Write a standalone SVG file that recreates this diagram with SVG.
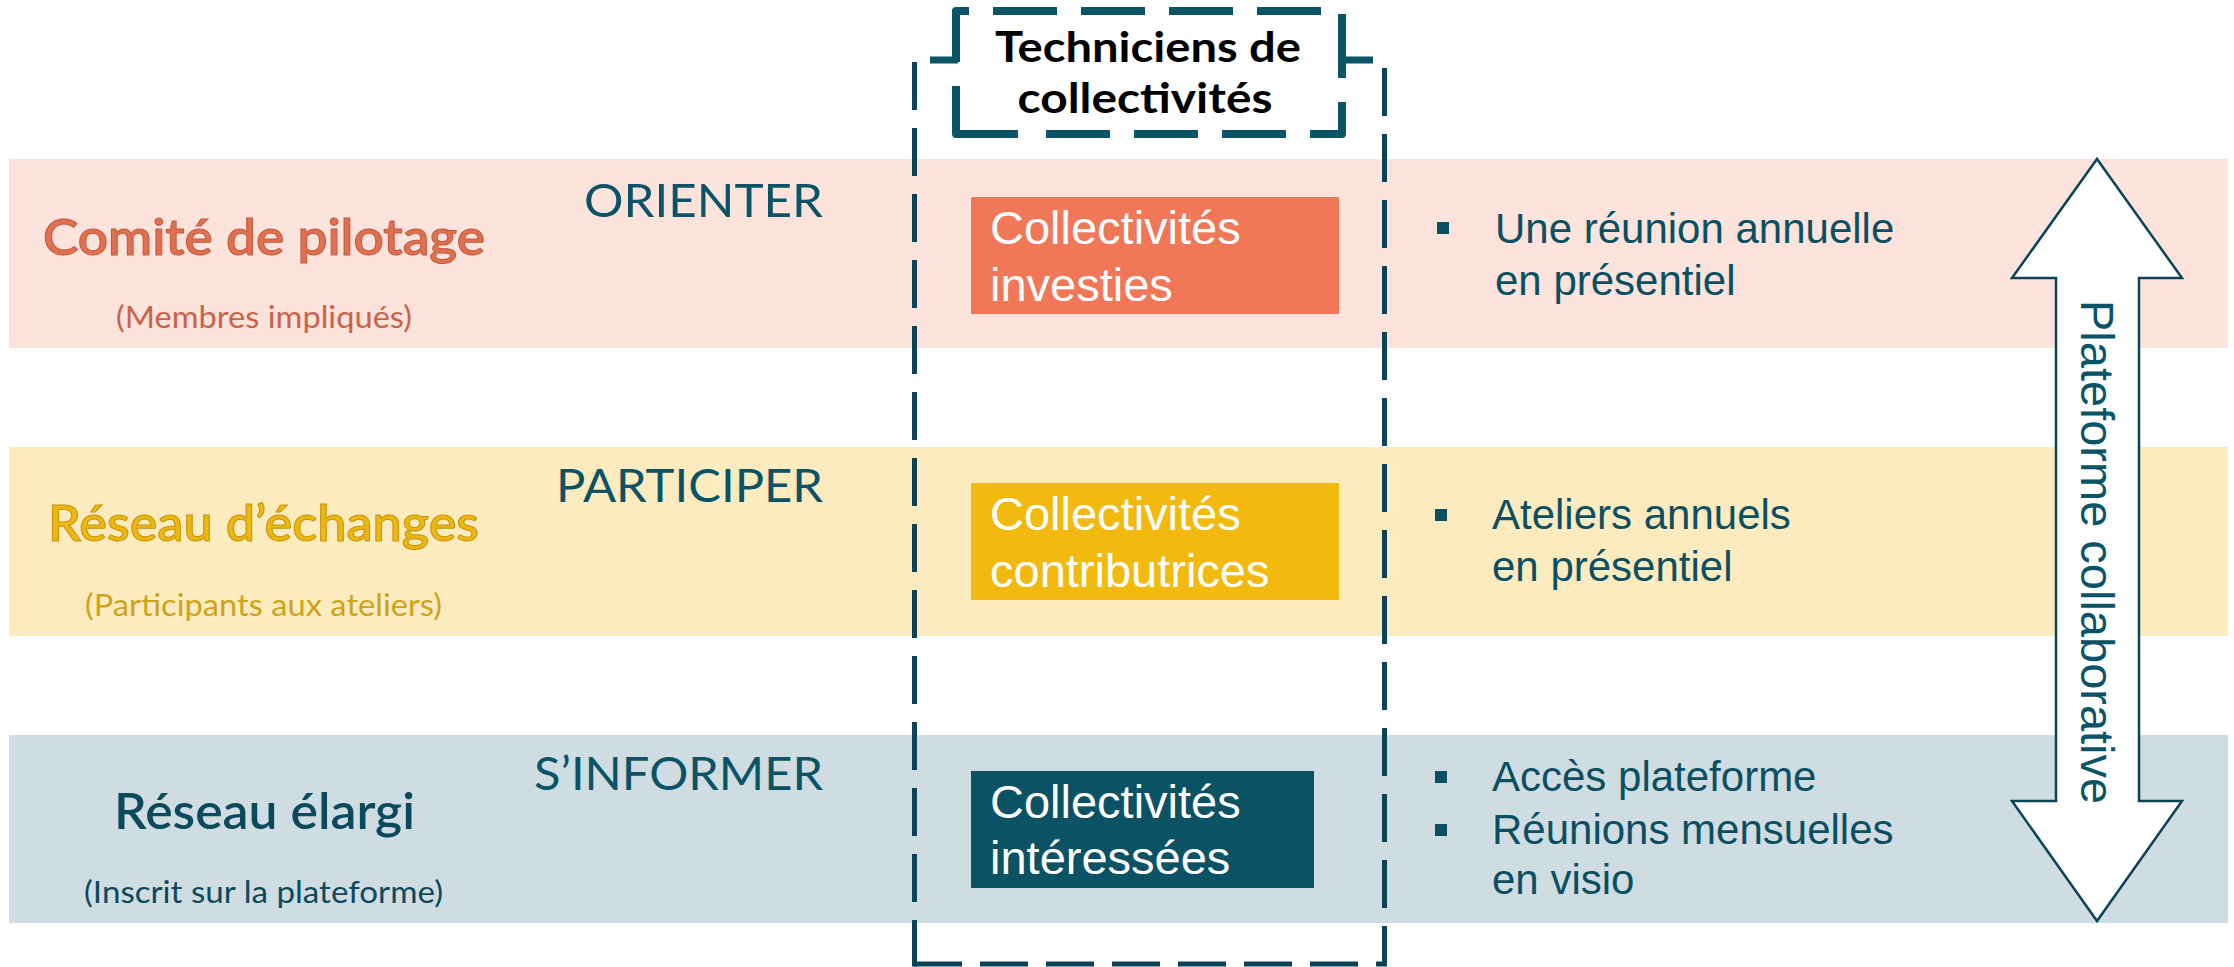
<svg xmlns="http://www.w3.org/2000/svg" width="2234" height="967" viewBox="0 0 2234 967">
<style>
.band{stroke:none}
.hdr{font-family:Lato,"Open Sans","Liberation Sans",sans-serif;font-weight:400;font-size:47px;fill:#0B5366}
.ttl{font-family:Lato,"Open Sans","Liberation Sans",sans-serif;font-weight:600;font-size:50px}
.sub{font-family:Lato,"Open Sans","Liberation Sans",sans-serif;font-weight:400;font-size:30px}
.box{font-family:"Liberation Sans",Arial,sans-serif;font-size:47px;fill:#FFFFFF}
.blt{font-family:"Liberation Sans",Arial,sans-serif;font-size:42px;fill:#0B4F62}
.sq{fill:#0B4F62}
.dash{fill:none;stroke:#0B4456;stroke-width:5;stroke-dasharray:48 18}
.lbl{fill:none;stroke:#0B5366;stroke-width:8;stroke-linejoin:round}
</style>
<rect width="2234" height="967" fill="#FFFFFF"/>
<g id="bands">
<rect class="band" x="9" y="159" width="2219" height="189" fill="#FCE3DC"/>
<rect class="band" x="9" y="447" width="2219" height="189" fill="#FDEBC0"/>
<rect class="band" x="9" y="735" width="2219" height="188" fill="#CFDDE2"/>
</g>
<g id="row-comite">
<text class="ttl" x="43" y="255" textLength="442" lengthAdjust="spacingAndGlyphs" fill="#E2704F" stroke="#BE5A40" stroke-width="1">Comité de pilotage</text>
<text class="sub" x="116" y="328" textLength="296" lengthAdjust="spacingAndGlyphs" fill="#CB624A">(Membres impliqués)</text>
<text class="hdr" x="584" y="217" textLength="239" lengthAdjust="spacingAndGlyphs">ORIENTER</text>
</g>
<g id="row-reseau-echanges">
<text class="ttl" x="48" y="541" textLength="431" lengthAdjust="spacingAndGlyphs" fill="#EDB611" stroke="#C4950C" stroke-width="1">Réseau d’échanges</text>
<text class="sub" x="85" y="616" textLength="357" lengthAdjust="spacingAndGlyphs" fill="#CFA318">(Participants aux ateliers)</text>
<text class="hdr" x="556" y="502" textLength="267" lengthAdjust="spacingAndGlyphs">PARTICIPER</text>
</g>
<g id="row-reseau-elargi">
<text class="ttl" x="114" y="829" textLength="301" lengthAdjust="spacingAndGlyphs" fill="#0B4A5C">Réseau élargi</text>
<text class="sub" x="84" y="903" textLength="359" lengthAdjust="spacingAndGlyphs" fill="#0B4A5C">(Inscrit sur la plateforme)</text>
<text class="hdr" x="534" y="790" textLength="289" lengthAdjust="spacingAndGlyphs">S’INFORMER</text>
</g>
<g id="connectors">
<line class="dash" x1="914.5" y1="62" x2="914.5" y2="964"/>
<line class="dash" x1="914" y1="964" x2="1387" y2="964"/>
<line class="dash" x1="1384.5" y1="68" x2="1384.5" y2="964"/>
<line x1="912" y1="964" x2="917" y2="964" stroke="#0B4456" stroke-width="5"/>
<line x1="930" y1="60" x2="958" y2="60" stroke="#0B5366" stroke-width="7"/>
<line x1="1340" y1="60" x2="1373" y2="60" stroke="#0B5366" stroke-width="7"/>
</g>
<g id="techniciens">
<path class="lbl" d="M956,62 V11 H1342 V134 H1022" stroke-dasharray="64 24"/>
<path class="lbl" d="M1018,134 H956 V86"/>
<text x="1148" y="62" text-anchor="middle" textLength="306" lengthAdjust="spacingAndGlyphs" font-family="Lato,'Open Sans','Liberation Sans',sans-serif" font-weight="700" font-size="42" fill="#000000">Techniciens de</text>
<text x="1145" y="113" text-anchor="middle" textLength="255" lengthAdjust="spacingAndGlyphs" font-family="Lato,'Open Sans','Liberation Sans',sans-serif" font-weight="700" font-size="42" fill="#000000">collectivités</text>
</g>
<g id="box-investies">
<rect x="971" y="197" width="368" height="117" fill="#F07858"/>
<text class="box" x="990" y="244">Collectivités</text>
<text class="box" x="990" y="301">investies</text>
</g>
<g id="box-contributrices">
<rect x="971" y="483" width="368" height="117" fill="#F2B90F"/>
<text class="box" x="990" y="530">Collectivités</text>
<text class="box" x="990" y="587">contributrices</text>
</g>
<g id="box-interessees">
<rect x="971" y="771" width="343" height="117" fill="#0A5264"/>
<text class="box" x="990" y="818">Collectivités</text>
<text class="box" x="990" y="874">intéressées</text>
</g>
<g id="bullets-comite">
<rect class="sq" x="1437" y="222" width="12" height="12"/>
<text class="blt" x="1495" y="243">Une réunion annuelle</text>
<text class="blt" x="1495" y="295">en présentiel</text>
</g>
<g id="bullets-echanges">
<rect class="sq" x="1435" y="509" width="12" height="12"/>
<text class="blt" x="1492" y="529">Ateliers annuels</text>
<text class="blt" x="1492" y="581">en présentiel</text>
</g>
<g id="bullets-elargi">
<rect class="sq" x="1435" y="771" width="12" height="12"/>
<text class="blt" x="1492" y="791">Accès plateforme</text>
<rect class="sq" x="1435" y="824" width="12" height="12"/>
<text class="blt" x="1492" y="844">Réunions mensuelles</text>
<text class="blt" x="1492" y="894">en visio</text>
</g>
<g id="plateforme">
<path d="M2097,159 L2182,278 L2139,278 L2139,801 L2182,801 L2097,921 L2012,801 L2056,801 L2056,278 L2012,278 Z" fill="#FFFFFF" stroke="#0B4456" stroke-width="2.5" stroke-linejoin="miter"/>
<text transform="translate(2081,300) rotate(90)" x="0" y="0" font-family="'Liberation Sans',Arial,sans-serif" font-size="47" fill="#0B5366">Plateforme collaborative</text>
</g>
</svg>
